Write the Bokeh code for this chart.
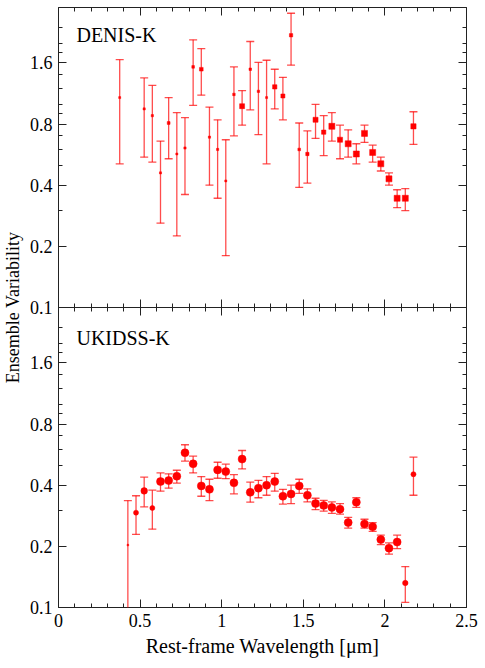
import numpy as np
from bokeh.plotting import figure
from bokeh.models import (ColumnDataSource, Range1d, LinearAxis, LogAxis, FixedTicker,
                          PrintfTickFormatter, CustomJSTickFormatter, Label)
from bokeh.layouts import row, column
from bokeh.embed import file_html
from bokeh.resources import INLINE

# ---------------- data ----------------
denis_wl = [0.375, 0.525, 0.575, 0.625, 0.675, 0.725, 0.775, 0.825, 0.875, 0.925, 0.975, 1.025,
            1.075, 1.125, 1.175, 1.225, 1.275, 1.325, 1.375, 1.425, 1.475, 1.525, 1.575, 1.625,
            1.675, 1.725, 1.775, 1.825, 1.875, 1.925, 1.975, 2.025, 2.075, 2.125, 2.175]
denis_val = [1.08, 0.95, 0.88, 0.46, 0.81, 0.57, 0.61, 1.53, 1.49, 0.69, 0.60, 0.42,
             1.12, 0.98, 1.49, 1.16, 1.08, 1.22, 1.10, 2.19, 0.60, 0.57, 0.84, 0.73,
             0.78, 0.67, 0.64, 0.57, 0.72, 0.58, 0.51, 0.43, 0.345, 0.345, 0.78]
denis_hi = [1.66, 1.35, 1.24, 0.66, 1.08, 0.91, 0.86, 2.08, 1.88, 0.97, 0.84, 0.67,
            1.53, 1.17, 2.04, 1.61, 1.65, 1.49, 1.36, 2.81, 0.81, 0.74, 1.00, 0.88,
            0.91, 0.79, 0.75, 0.64, 0.79, 0.63, 0.55, 0.46, 0.38, 0.385, 0.92]
denis_lo = [0.51, 0.55, 0.52, 0.26, 0.54, 0.225, 0.36, 0.99, 1.11, 0.40, 0.345, 0.18,
            0.70, 0.79, 0.94, 0.71, 0.51, 0.95, 0.84, 1.56, 0.39, 0.41, 0.68, 0.56,
            0.66, 0.54, 0.55, 0.51, 0.65, 0.52, 0.47, 0.40, 0.31, 0.30, 0.635]

ukidss_wl = [0.425, 0.475, 0.525, 0.575, 0.625, 0.675, 0.725, 0.775, 0.825, 0.875, 0.925, 0.975,
             1.025, 1.075, 1.125, 1.175, 1.225, 1.275, 1.325, 1.375, 1.425, 1.475, 1.525, 1.575,
             1.625, 1.675, 1.725, 1.775, 1.825, 1.875, 1.925, 1.975, 2.025, 2.075, 2.125, 2.175]
ukidss_val = [0.203, 0.293, 0.375, 0.309, 0.417, 0.422, 0.443, 0.578, 0.510, 0.397, 0.382, 0.476,
              0.467, 0.411, 0.538, 0.369, 0.387, 0.400, 0.417, 0.353, 0.362, 0.397, 0.357, 0.325,
              0.318, 0.311, 0.305, 0.262, 0.330, 0.258, 0.250, 0.216, 0.196, 0.210, 0.132, 0.453]
ukidss_hi = [0.336, 0.355, 0.438, 0.378, 0.460, 0.455, 0.474, 0.633, 0.556, 0.441, 0.428, 0.519,
             0.508, 0.451, 0.593, 0.414, 0.423, 0.441, 0.458, 0.382, 0.400, 0.428, 0.384, 0.345,
             0.337, 0.331, 0.325, 0.278, 0.347, 0.272, 0.262, 0.227, 0.208, 0.227, 0.159, 0.550]
ukidss_lo = [0.05, 0.229, 0.313, 0.243, 0.374, 0.387, 0.410, 0.526, 0.460, 0.353, 0.336, 0.433,
             0.431, 0.363, 0.481, 0.330, 0.347, 0.357, 0.374, 0.323, 0.325, 0.365, 0.331, 0.303,
             0.298, 0.291, 0.288, 0.246, 0.311, 0.246, 0.237, 0.204, 0.183, 0.195, 0.106, 0.357]

x_ticks = [0, 0.5, 1, 1.5, 2, 2.5]
x_minor = [round(0.1 * i, 1) for i in range(26)]
y_ticks = [0.1, 0.2, 0.4, 0.8, 1.6]
y_minor = [0.3, 0.5, 0.6, 0.7, 0.9, 1.0, 1.2, 1.4, 1.8, 2.0, 2.4]

panel_names = ["DENIS-K", "UKIDSS-K"]
x_label = "Rest-frame Wavelength [μm]"
y_label = "Ensemble Variability"

# ---------------- style ----------------
FONT = "Liberation Serif"
FS = "18px"
AX = "#222222"
RED = "#ff0000"
STRIP_W = 26
FRAME_W = 409
FRAME_H = 300
LEFT_B = 31
RIGHT_B = 12
TOP_B = 7
OVERLAP = 13
BOT_B = 52


def style_axis(ax, labels=True):
    ax.axis_line_color = None
    ax.major_tick_in = 8
    ax.major_tick_out = 0
    ax.minor_tick_in = 4
    ax.minor_tick_out = 0
    ax.major_tick_line_color = AX
    ax.minor_tick_line_color = AX
    ax.major_label_text_font = FONT
    ax.major_label_text_font_size = FS
    ax.major_label_text_color = "black"
    ax.axis_label_text_font = FONT
    ax.axis_label_text_font_size = "20px"
    ax.axis_label_text_font_style = "normal"
    ax.axis_label_text_color = "black"
    if labels:
        ax.major_label_standoff = 6
    else:
        ax.major_label_text_color = None
        ax.major_label_text_font_size = "1px"
        ax.major_label_standoff = 0


def make_panel(wl, val, hi, lo, name, marker, kfac, smax, bottom):
    if bottom:
        h = FRAME_H + BOT_B
        kw = dict(min_border_top=0, min_border_bottom=BOT_B, margin=(-OVERLAP, 0, 0, 0))
    else:
        h = TOP_B + FRAME_H + OVERLAP
        kw = dict(min_border_top=TOP_B, min_border_bottom=OVERLAP)
    p = figure(width=LEFT_B + FRAME_W + RIGHT_B, height=h,
               x_range=Range1d(0, 2.5), y_range=Range1d(0.1, 3.0),
               y_axis_type="log", output_backend="svg", toolbar_location=None,
               min_border_left=LEFT_B, min_border_right=RIGHT_B, **kw)
    p.background_fill_color = "white"
    if bottom:
        p.border_fill_alpha = 0
    else:
        p.border_fill_color = "white"
    p.outline_line_color = AX
    p.outline_line_width = 1
    p.xgrid.visible = False
    p.ygrid.visible = False

    xt = FixedTicker(ticks=x_ticks, minor_ticks=x_minor)
    yt = FixedTicker(ticks=y_ticks, minor_ticks=y_minor)
    xf = CustomJSTickFormatter(code="return String(tick);")
    yf = PrintfTickFormatter(format="%.1f")

    xa = p.xaxis[0]
    xa.ticker = xt
    xa.formatter = xf
    style_axis(xa, labels=bottom)
    if bottom:
        xa.axis_label = x_label
        xa.axis_label_standoff = 5

    ya = p.yaxis[0]
    ya.ticker = yt
    ya.formatter = yf
    style_axis(ya, labels=True)

    top_ax = LinearAxis(ticker=xt, formatter=xf)
    style_axis(top_ax, labels=False)
    p.add_layout(top_ax, "above")
    right_ax = LogAxis(ticker=yt, formatter=yf)
    style_axis(right_ax, labels=False)
    p.add_layout(right_ax, "right")

    wl_a = np.array(wl)
    hi_a = np.array(hi)
    lo_a = np.array(lo)
    width = np.log2(hi_a / lo_a)
    sizes = np.clip(kfac / width, 2.0, smax)
    src = ColumnDataSource(dict(x=wl_a, y=np.array(val), hi=hi_a, lo=lo_a, s=sizes))

    p.segment(x0="x", y0="lo", x1="x", y1="hi", source=src,
              line_color=RED, line_alpha=0.7, line_width=1.3)
    p.scatter(x="x", y="hi", source=src, marker="dash", size=8,
              line_color=RED, line_alpha=0.7, line_width=1.3)
    p.scatter(x="x", y="lo", source=src, marker="dash", size=8,
              line_color=RED, line_alpha=0.7, line_width=1.3)
    p.scatter(x="x", y="y", source=src, marker=marker, size="s",
              fill_color=RED, line_color=RED, line_width=0.5)

    p.add_layout(Label(x=0.11, y=(2.2 if not bottom else 2.13), text=name,
                       text_font=FONT, text_font_size="20px",
                       text_baseline="alphabetic", text_color="black"))
    return p


p_top = make_panel(denis_wl, denis_val, denis_hi, denis_lo, panel_names[0],
                   "square", 2.8, 6.0, False)
p_bot = make_panel(ukidss_wl, ukidss_val, ukidss_hi, ukidss_lo, panel_names[1],
                   "circle", 3.2, 8.0, True)

# y-axis label strip
total_h = TOP_B + FRAME_H + FRAME_H + BOT_B
p_lab = figure(width=STRIP_W, height=total_h, x_range=Range1d(0, 1), y_range=Range1d(0, total_h),
               output_backend="svg", toolbar_location=None,
               min_border_left=0, min_border_right=0, min_border_top=0, min_border_bottom=0)
p_lab.outline_line_color = None
p_lab.axis.visible = False
p_lab.grid.visible = False
p_lab.add_layout(Label(x=0.48, y=total_h - (TOP_B + FRAME_H), text=y_label, angle=np.pi / 2,
                       text_font=FONT, text_font_size=FS, text_align="center",
                       text_baseline="middle", text_color="black"))

layout = row(p_lab, column(p_top, p_bot, spacing=0), spacing=0)

open("out.html", "w").write(file_html(layout, INLINE))
